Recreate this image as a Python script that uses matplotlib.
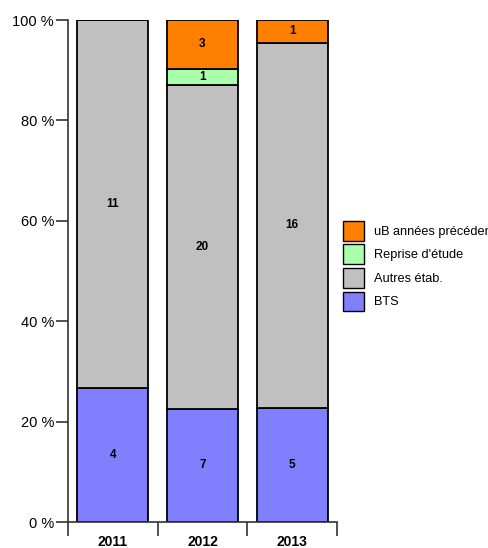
import matplotlib
matplotlib.use("Agg")
import matplotlib.pyplot as plt
from matplotlib.patches import Patch
import numpy as np

plt.rcParams['font.family'] = ['Liberation Sans', 'DejaVu Sans']

# data: counts per year, stacked bottom to top
years = ['2011', '2012', '2013']
series = ['BTS', 'Autres étab.', "Reprise d'étude", 'uB années précédentes']
bts = [4, 7, 5]
autres = [11, 20, 16]
reprise = [0, 1, 0]
ub = [0, 3, 1]
colors = ['#8080FF', '#C0C0C0', '#AAFFAA', '#FF8000']

counts = np.array([bts, autres, reprise, ub], dtype=float)
totals = counts.sum(axis=0)
pct = counts / totals * 100

fig = plt.figure(figsize=(4.88, 5.48), dpi=100)
ax = fig.add_axes([0.1393, 0.0474, 0.5513, 0.9161])

x = np.arange(len(years))
bottom = np.zeros(len(years))
for i in range(len(series)):
    ax.bar(x, pct[i], 0.79, bottom=bottom, color=colors[i],
           edgecolor='black', linewidth=1.3)
    for j in range(len(years)):
        if counts[i, j] > 0:
            ax.text(x[j], bottom[j] + pct[i, j] / 2, str(int(counts[i, j])),
                    ha='center', va='center', fontsize=8.5, fontweight='bold')
    bottom += pct[i]

ax.set_xlim(-0.5, 2.5)
ax.set_ylim(0, 100)
ax.set_yticks([0, 20, 40, 60, 80, 100])
ax.set_yticklabels(['0 %', '20 %', '40 %', '60 %', '80 %', '100 %'], fontsize=10.5)
ax.set_xticks([-0.5, 0.5, 1.5, 2.5])
ax.set_xticklabels([])
ax.set_xticks(x, minor=True)
ax.set_xticklabels(years, minor=True, fontsize=10, fontweight='bold')
ax.tick_params(axis='x', which='major', length=10, width=1.2, color='#333333')
ax.tick_params(axis='x', which='minor', length=0, pad=9)
ax.tick_params(axis='y', length=9, width=1.2, color='#333333', pad=1)

for s in ['top', 'right']:
    ax.spines[s].set_visible(False)
for s in ['left', 'bottom']:
    ax.spines[s].set_linewidth(1.2)
    ax.spines[s].set_color('#333333')

handles = [Patch(facecolor=colors[i], edgecolor='black', linewidth=1.0)
           for i in range(3, -1, -1)]
labels = [series[i] for i in range(3, -1, -1)]
fig.legend(handles, labels, loc='upper left', bbox_to_anchor=(0.703, 0.597),
           frameon=False, fontsize=9.2, handlelength=1.6, handleheight=2.0,
           handletextpad=0.85, labelspacing=0.3, borderaxespad=0, borderpad=0)

fig.savefig('out.png', dpi=100)
